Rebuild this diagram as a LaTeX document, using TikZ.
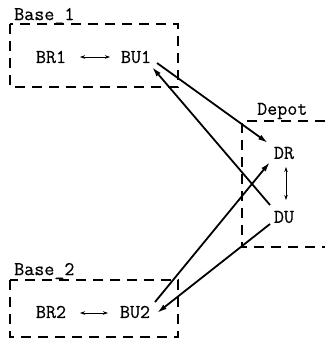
\documentclass[tikz,border=0pt]{standalone}
\usepackage{fontspec}
\usetikzlibrary{arrows.meta}
\newfontfamily\typew[FakeBold=0.5]{Latin Modern Mono}
\begin{document}
\begin{tikzpicture}[x=1pt,y=-1pt,
  lbl/.style={inner sep=0pt,font=\fontsize{19.5}{22}\typew},
  boxline/.style={line width=1.2pt,dash pattern=on 10pt off 7pt},
  flow/.style={line width=1.8pt,-{Latex[length=10pt,width=5.5pt]}},
  pair/.style={line width=0.8pt,{Stealth[length=5pt,width=3.5pt]}-{Stealth[length=5pt,width=3.5pt]}}]
\useasboundingbox (0,0) rectangle (325,350);

% base and depot outlines
\draw[boxline] (10,24) rectangle (178,87);
\draw[boxline] (10,280) rectangle (178,337);
\draw[boxline] (325,121) -| (242,247) -- (325,247);

% group labels
\node[lbl,anchor=west] (base1) at (14,16) {Base\_1};
\node[lbl,anchor=west] (base2) at (14,271) {Base\_2};
\node[lbl,anchor=west] (depot) at (257,111) {Depot};

% stations
\node[lbl] (br1) at (51,57) {BR1};
\node[lbl] (bu1) at (136,57) {BU1};
\node[lbl] (br2) at (51,312) {BR2};
\node[lbl] (bu2) at (135,312) {BU2};
\node[lbl] (dr) at (284,153) {DR};
\node[lbl] (du) at (284,217) {DU};

% local links
\draw[pair] ([shift={(29,0)}]br1.center) -- ([shift={(-26,0)}]bu1.center);
\draw[pair] ([shift={(29,1)}]br2.center) -- ([shift={(-27,1)}]bu2.center);
\draw[pair] ([shift={(2,14)}]dr.center) -- ([shift={(2,-17)}]du.center);

% transfers between bases and depot
\draw[flow] ([shift={(21,6)}]bu1.center) -- ([shift={(-16,-10)}]dr.center);
\draw[flow] ([shift={(-14,-12)}]du.center) -- ([shift={(16,10)}]bu1.center);
\draw[flow] ([shift={(20,-10)}]bu2.center) -- ([shift={(-14,9)}]dr.center);
\draw[flow] ([shift={(-14,7)}]du.center) -- ([shift={(22,1)}]bu2.center);
\end{tikzpicture}
\end{document}
